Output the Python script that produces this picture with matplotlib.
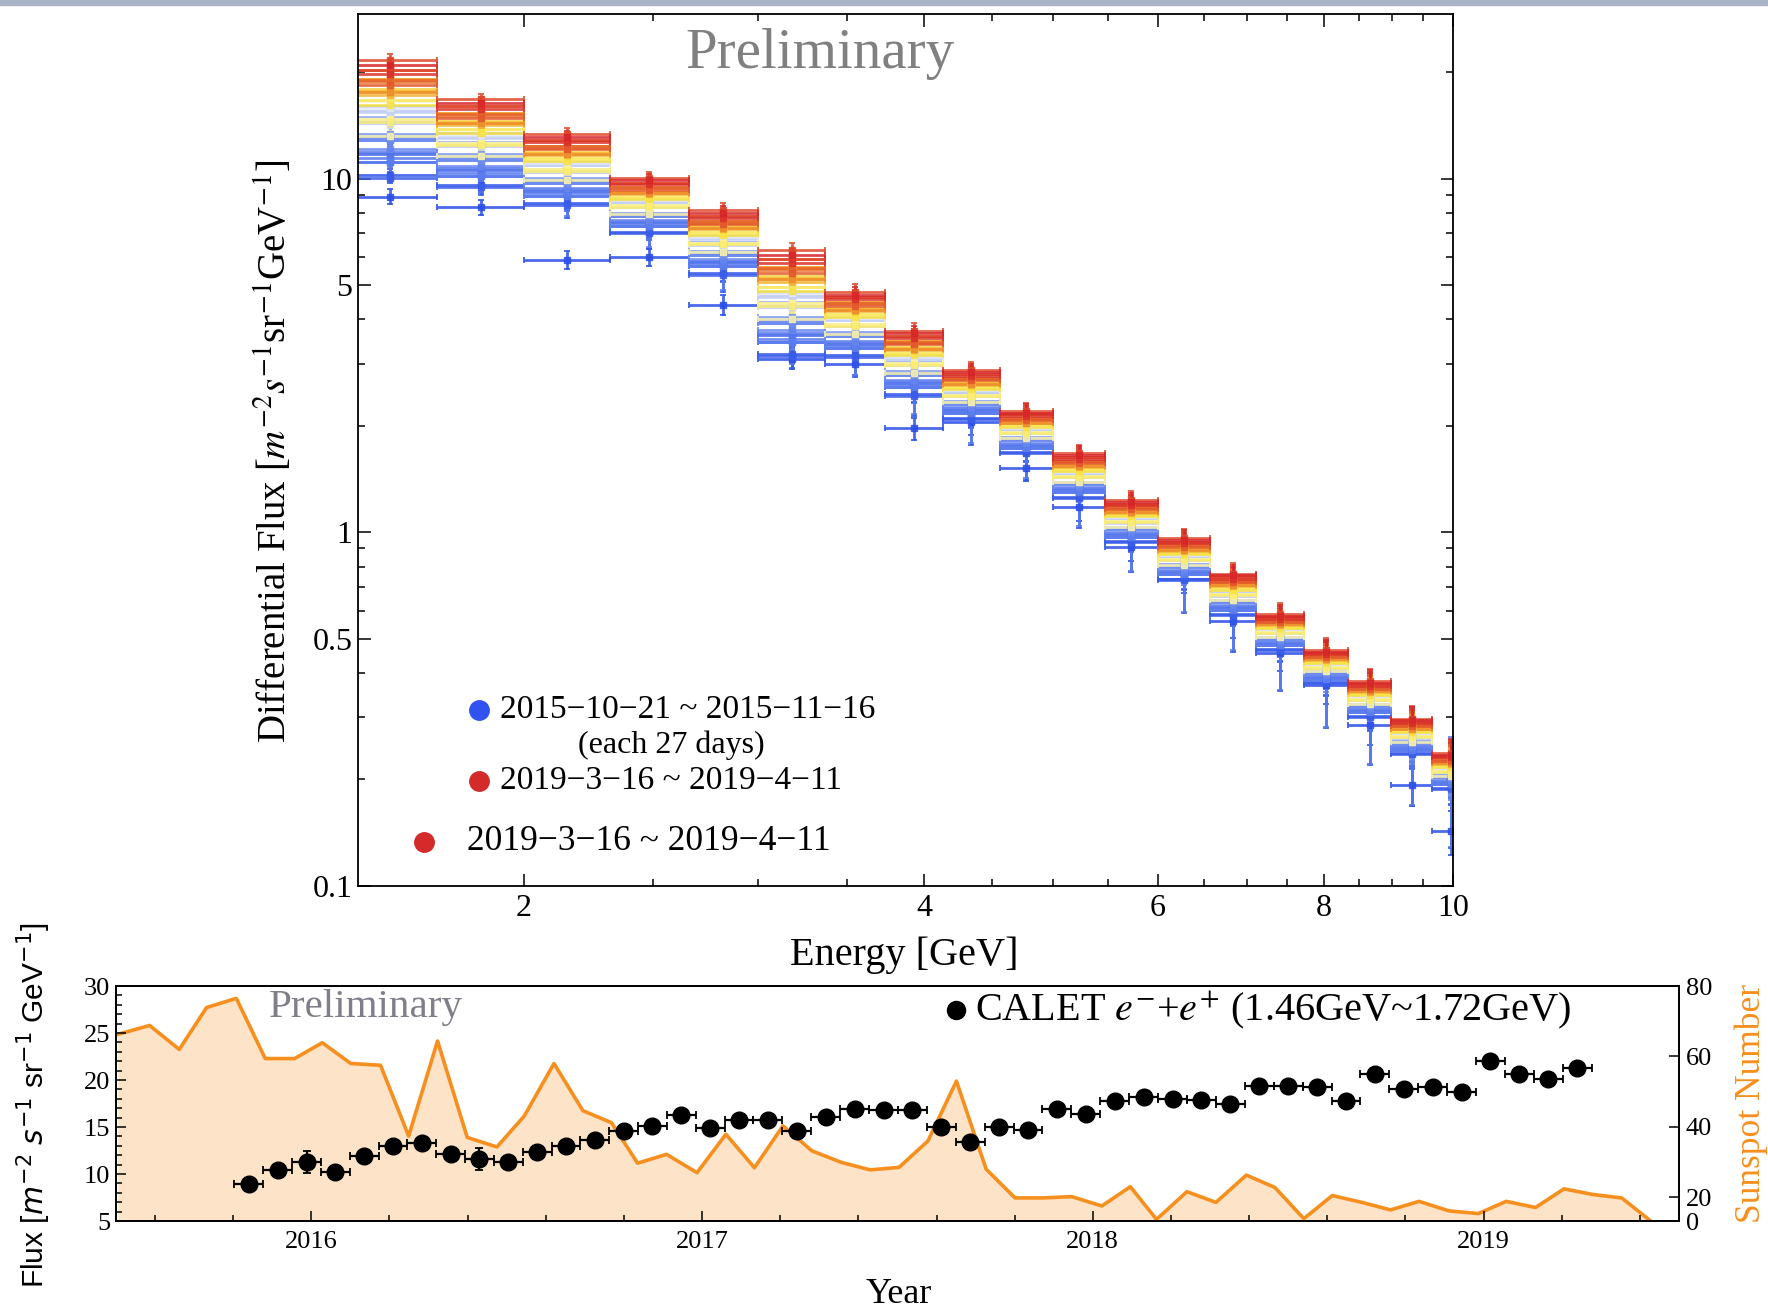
import numpy as np
import pandas as pd
import matplotlib
matplotlib.use('Agg')
import matplotlib.pyplot as plt
from matplotlib.colors import LinearSegmentedColormap
from matplotlib.patches import Rectangle
from matplotlib.ticker import FixedLocator, NullFormatter

plt.rcParams['font.family'] = ['Liberation Serif', 'DejaVu Serif']
plt.rcParams['mathtext.fontset'] = 'stix'

# ---- top panel: energy bins [GeV] ----
bin_lo = [1.46, 1.72, 2.0, 2.32, 2.66, 3.0, 3.37, 3.74, 4.13, 4.56,
          5.0, 5.47, 6.0, 6.56, 7.11, 7.72, 8.34, 8.99, 9.64]
bin_hi = [1.72, 2.0, 2.32, 2.66, 3.0, 3.37, 3.74, 4.13, 4.56, 5.0,
          5.47, 6.0, 6.56, 7.11, 7.72, 8.34, 8.99, 9.64, 10.3]

# first period (2015-10-21 ~ 2015-11-16) and last period (2019-3-16 ~ 2019-4-11)
flux_first = [8.9, 8.3, 5.9, 6.0, 4.4, 3.1, 3.0, 1.97, 2.05, 1.52,
              1.18, 0.91, 0.74, 0.56, 0.455, 0.37, 0.285, 0.193, 0.143]
flux_last = [21.0, 16.4, 13.1, 9.9, 8.0, 6.1, 4.7, 3.65, 2.84, 2.18,
             1.65, 1.22, 0.95, 0.755, 0.58, 0.46, 0.375, 0.294, 0.235]
# spread of the intermediate periods in each bin, relative to the 1.46-1.72 GeV bin
mod_index = [1.0, 0.75, 0.6, 0.47, 0.55, 0.9, 0.55, 0.55, 0.42, 0.36,
             0.38, 0.36, 0.35, 0.35, 0.3, 0.28, 0.3, 0.3, 0.3]
rel_err = [0.035, 0.035, 0.04, 0.04, 0.045, 0.045, 0.05, 0.05, 0.055, 0.055,
           0.06, 0.06, 0.065, 0.07, 0.075, 0.08, 0.085, 0.09, 0.1]

# ---- bottom panel: CALET flux 1.46-1.72 GeV, 27-day periods ----
calet_flux = [8.9, 10.4, 11.3, 10.2, 11.9, 13.0, 13.3, 12.1, 11.6, 11.3,
              12.3, 13.0, 13.6, 14.6, 15.1, 16.3, 14.9, 15.8, 15.7, 14.6,
              16.1, 16.9, 16.8, 16.8, 15.0, 13.4, 15.0, 14.7, 16.9, 16.4,
              17.8, 18.2, 18.0, 17.9, 17.5, 19.4, 19.4, 19.3, 17.8, 20.6,
              19.0, 19.3, 18.7, 22.0, 20.6, 20.1, 21.3]
calet_err = [0.5, 0.35, 1.2, 0.35, 0.35, 0.35, 0.35, 0.35, 1.2, 0.35,
             0.35, 0.35, 0.35, 0.35, 0.35, 0.35, 0.35, 0.35, 0.35, 0.35,
             0.35, 0.35, 0.35, 0.35, 0.35, 0.35, 0.35, 0.35, 0.35, 0.35,
             0.35, 0.35, 0.35, 0.35, 0.35, 0.35, 0.35, 0.35, 0.35, 0.35,
             0.35, 0.35, 0.35, 0.35, 0.35, 0.35, 0.35]

ssn_year = [2015.505, 2015.586, 2015.662, 2015.732, 2015.808, 2015.882, 2015.957,
            2016.028, 2016.101, 2016.177, 2016.249, 2016.323, 2016.399, 2016.475,
            2016.545, 2016.621, 2016.695, 2016.768, 2016.835, 2016.909, 2016.987,
            2017.061, 2017.134, 2017.207, 2017.281, 2017.357, 2017.430, 2017.504,
            2017.578, 2017.651, 2017.727, 2017.801, 2017.873, 2017.946, 2018.023,
            2018.096, 2018.163, 2018.241, 2018.315, 2018.393, 2018.466, 2018.540,
            2018.613, 2018.689, 2018.762, 2018.835, 2018.911, 2018.987, 2019.058,
            2019.133, 2019.206, 2019.280, 2019.354, 2019.426]
ssn = [66.3, 68.8, 62.0, 73.9, 76.5, 59.4, 59.4,
       63.9, 58.0, 57.5, 37.4, 64.4, 37.0, 34.3,
       43.1, 58.0, 44.6, 41.2, 29.7, 32.2, 27.0,
       37.9, 28.4, 40.3, 33.2, 29.9, 27.8, 28.5,
       36.0, 53.0, 28.0, 19.5, 19.5, 20.2, 12.7,
       23.0, 1.4, 21.6, 15.7, 26.3, 22.8, 2.0,
       20.5, 15.7, 9.4, 16.6, 8.6, 6.3, 16.6,
       11.4, 22.4, 20.8, 19.4, 0.5]

# period centres in decimal years (27-day periods starting 2015-10-21)
starts = pd.date_range('2015-10-21', periods=len(calet_flux), freq='27D')
mid = starts + pd.Timedelta(hours=13.5 * 24)
t_mid = np.array(mid.year + (mid.dayofyear - 1 + mid.hour / 24) /
                 np.where(mid.is_leap_year, 366, 365))

cmap = LinearSegmentedColormap.from_list('temp', [
    (0.0, '#2b4fe8'), (0.2, '#5f80ee'), (0.35, '#a9bcf3'), (0.45, '#eef0f8'),
    (0.52, '#fdf9d0'), (0.62, '#f8e640'), (0.8, '#f29a2e'), (1.0, '#d7262a')])

fig = plt.figure(figsize=(17.68, 13.10), dpi=100)
fig.patches.append(Rectangle((0, 1 - 5 / 1310), 1, 5 / 1310, transform=fig.transFigure,
                             color='#aab4c6', zorder=0))

# ---------------- top panel ----------------
ax = fig.add_axes([0.2025, 0.3237, 0.6193, 0.6656])
lo = np.array(bin_lo)
hi = np.array(bin_hi)
ctr = np.sqrt(lo * hi)
first = np.array(flux_first)
last = np.array(flux_last)
gam = np.array(mod_index)
n = len(calet_flux)
for k in range(n):
    if k == 0:
        f = first
    else:
        f = last * (calet_flux[k] / calet_flux[-1]) ** gam
    ax.errorbar(ctr, f, xerr=[ctr - lo, hi - ctr], yerr=f * np.array(rel_err) * calet_err[k] / 0.35,
                fmt='s', ms=4, color=cmap(k / (n - 1)), lw=2.0, capsize=2.5, capthick=1.4,
                alpha=0.85, linestyle='none')

ax.set_xscale('log')
ax.set_yscale('log')
ax.set_xlim(1.5, 10.0)
ax.set_ylim(0.1, 29.2)
ax.xaxis.set_major_locator(FixedLocator([2, 4, 6, 8, 10]))
ax.xaxis.set_minor_locator(FixedLocator(np.arange(2.5, 10, 0.5)))
ax.set_xticklabels(['2', '4', '6', '8', '10'])
ax.xaxis.set_minor_formatter(NullFormatter())
ax.yaxis.set_major_locator(FixedLocator([0.1, 0.5, 1, 5, 10]))
ax.set_yticklabels(['0.1', '0.5', '1', '5', '10'])
ax.yaxis.set_minor_locator(FixedLocator([0.2, 0.3, 0.4, 0.6, 0.7, 0.8, 0.9,
                                         2, 3, 4, 6, 7, 8, 9, 20]))
ax.yaxis.set_minor_formatter(NullFormatter())
ax.tick_params(which='both', direction='in', top=True, right=True, width=1.1, labelsize=23)
ax.tick_params(which='major', length=9)
ax.tick_params(which='minor', length=5)
ax.tick_params(axis='x', pad=6)
ax.tick_params(axis='y', pad=4)
for s in ax.spines.values():
    s.set_linewidth(1.3)

ax.text(0.422, 0.954, 'Preliminary', transform=ax.transAxes, fontsize=41,
        color='#808080', ha='center', va='center')
ax.text(-0.076, 0.498, r'Differential Flux [$m^{-2}s^{-1}$sr$^{-1}$GeV$^{-1}$]',
        transform=ax.transAxes, rotation=90, fontsize=28, ha='center', va='center')
ax.text(0.4986, -0.080, 'Energy [GeV]', transform=ax.transAxes, fontsize=29,
        ha='center', va='center')

# legend
ax.plot([0.1105], [0.2018], 'o', color='#2f52f0', ms=14, transform=ax.transAxes, clip_on=False)
ax.text(0.1297, 0.2018, '2015\u221210\u221221 ~ 2015\u221211\u221216', transform=ax.transAxes,
        fontsize=24, va='center', ha='left')
ax.text(0.2858, 0.1617, '(each 27 days)', transform=ax.transAxes, fontsize=23,
        va='center', ha='center')
ax.plot([0.1105], [0.1204], 'o', color='#d42a2a', ms=14, transform=ax.transAxes, clip_on=False)
ax.text(0.1297, 0.1204, '2019\u22123\u221216 ~ 2019\u22124\u221211', transform=ax.transAxes,
        fontsize=24, va='center', ha='left')
ax.plot([0.0603], [0.0505], 'o', color='#d42a2a', ms=14, transform=ax.transAxes, clip_on=False)
ax.text(0.0995, 0.0505, '2019\u22123\u221216 ~ 2019\u22124\u221211', transform=ax.transAxes,
        fontsize=25.5, va='center', ha='left')

# ---------------- bottom panel ----------------
axb = fig.add_axes([0.0656, 0.0679, 0.884, 0.1794])
ax2 = axb.twinx()
axb.set_zorder(ax2.get_zorder() + 1)
axb.patch.set_visible(False)


def ssn_fwd(v):
    v = np.asarray(v, dtype=float)
    return np.where(v < 20, v * 0.337, v - 20 + 6.74)


def ssn_inv(u):
    u = np.asarray(u, dtype=float)
    return np.where(u < 6.74, u / 0.337, u + 20 - 6.74)


ax2.set_yscale('function', functions=(ssn_fwd, ssn_inv))
ax2.fill_between(ssn_year, 0, ssn, color='#fde4c9', lw=0)
ax2.plot(ssn_year, ssn, color='#f78f1e', lw=2.6)
ax2.set_ylim(0, 80)
ax2.yaxis.set_major_locator(FixedLocator([0, 20, 40, 60, 80]))
ax2.yaxis.set_minor_locator(FixedLocator([]))
ax2.set_yticklabels(['0', '20', '40', '60', '80'])
ax2.tick_params(direction='in', length=7, width=1.1, labelsize=19, pad=5)

axb.errorbar(t_mid, calet_flux, xerr=13.5 / 365.25, yerr=calet_err, fmt='o', color='black',
             ms=12, elinewidth=1.6, capsize=3, capthick=1.3)
axb.set_xlim(2015.5, 2019.5)
axb.set_ylim(5, 30)
axb.xaxis.set_major_locator(FixedLocator([2016, 2017, 2018, 2019]))
axb.xaxis.set_minor_locator(FixedLocator(np.arange(2015.6, 2019.45, 0.2)))
axb.yaxis.set_major_locator(FixedLocator([5, 10, 15, 20, 25, 30]))
axb.yaxis.set_minor_locator(FixedLocator(np.arange(5, 31, 1)))
axb.tick_params(which='both', direction='in', width=1.1, labelsize=19)
axb.tick_params(which='major', length=7)
axb.tick_params(which='minor', length=4)
axb.tick_params(axis='x', pad=7)
axb.tick_params(axis='y', pad=4)
for s in list(axb.spines.values()) + list(ax2.spines.values()):
    s.set_linewidth(1.3)

axb.text(0.16, 0.91, 'Preliminary', transform=axb.transAxes, fontsize=29.5,
         color='#7f7f8a', ha='center', va='center')
axb.plot([0.5374], [0.898], 'o', color='black', ms=13, transform=axb.transAxes, clip_on=False)
axb.text(0.5496, 0.898, r'CALET $e^{-}$+$e^{+}$ (1.46GeV~1.72GeV)', transform=axb.transAxes,
         fontsize=29, ha='left', va='center')
axb.text(0.501, -0.311, 'Year', transform=axb.transAxes, fontsize=26, ha='center', va='center')
axb.text(-0.0525, 0.494, r'Flux [$m^{-2}$ $s^{-1}$ sr$^{-1}$ GeV$^{-1}$]', transform=axb.transAxes,
         fontsize=21.5, family='Liberation Sans', math_fontfamily='dejavusans',
         rotation=90, ha='center', va='center')
axb.text(1.046, 0.502, 'Sunspot Number', transform=axb.transAxes, fontsize=25.5, color='#f78f1e',
         rotation=90, ha='center', va='center')

fig.savefig('out.png', dpi=100)
